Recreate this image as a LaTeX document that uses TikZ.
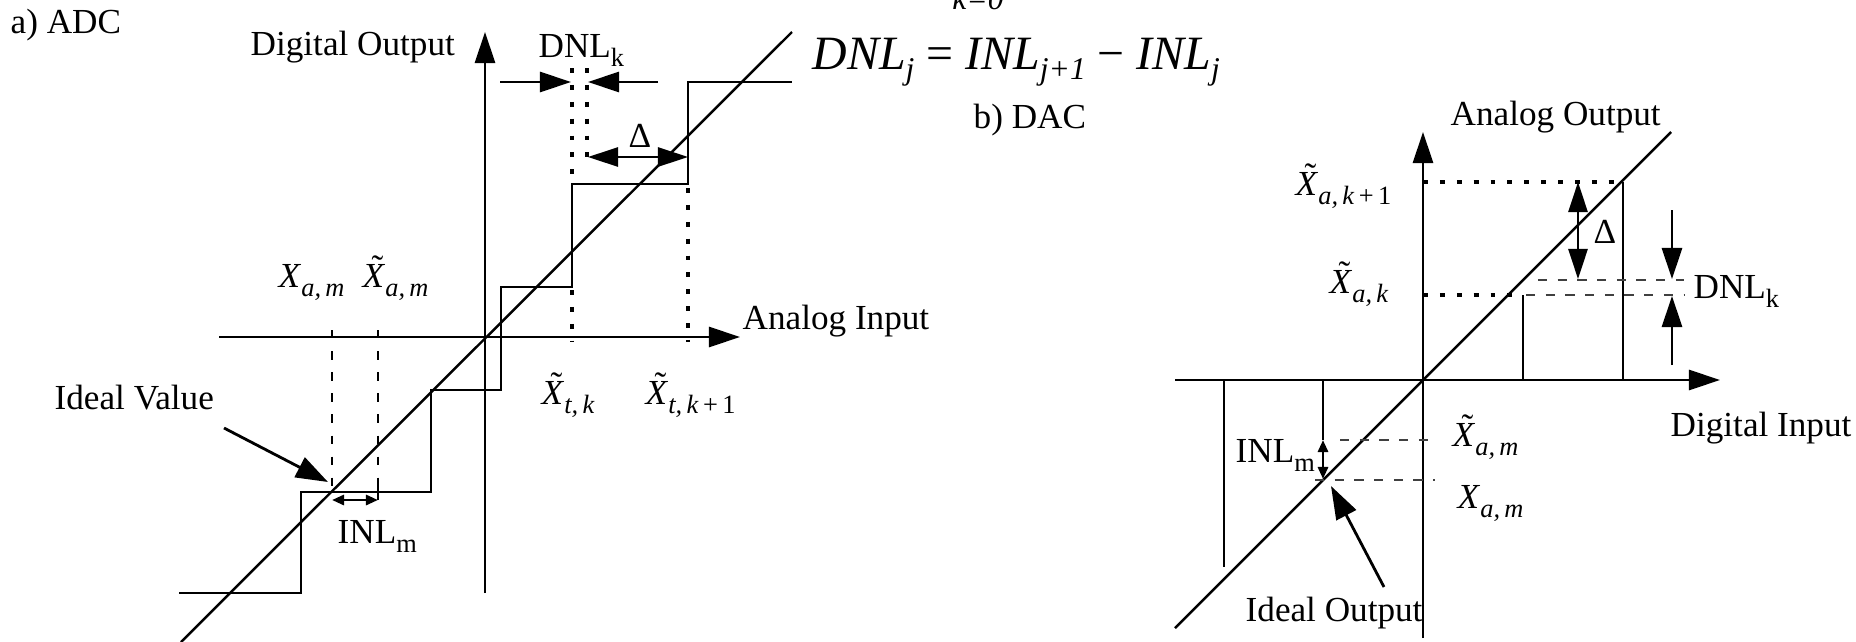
\documentclass[tikz,border=0pt]{standalone}
\usepackage{fontspec}
\setmainfont{Liberation Serif}
\usetikzlibrary{arrows.meta}
\newcommand\tX{\ooalign{\textit{X}\cr\hidewidth\raisebox{0.2em}{\kern0.2em\char"02DC}\hidewidth\cr}}
\newcommand\lsub[1]{\raisebox{-0.26em}{\fontsize{7.5}{8}\selectfont #1}}
\newcommand\sbt[1]{\lsub{\itshape #1}}
\newcommand\eqsub[1]{\raisebox{-0.22em}{\fontsize{9}{10}\selectfont\textit{#1}}}
\begin{document}
\begin{tikzpicture}[x=0.01cm,y=-0.01cm,
  lab/.style={anchor=base west,inner sep=0pt,font=\fontsize{10}{12}\selectfont},
  labc/.style={anchor=base,inner sep=0pt,font=\fontsize{10}{12}\selectfont},
  axisline/.style={line width=0.8pt},
  diagline/.style={line width=0.7pt},
  bigarrow/.style={line width=0.8pt,-{Triangle[length=3.1mm,width=2mm]}},
  dblarrow/.style={line width=0.8pt,{Triangle[length=3mm,width=1.9mm]}-{Triangle[length=3mm,width=1.9mm]}},
  smalldbl/.style={line width=0.8pt,{Triangle[length=1.2mm,width=1mm]}-{Triangle[length=1.2mm,width=1mm]}},
  bolddots/.style={line width=1.1pt,dash pattern=on 1.4pt off 3.4pt},
  lightdash/.style={line width=0.6pt,black!75,dash pattern=on 2.6pt off 3pt},
  thindash/.style={line width=0.7pt,dash pattern=on 2.4pt off 3.6pt}]
\useasboundingbox (0,0) rectangle (1856,642);

% ---------------- formula ----------------
\node[anchor=base,inner sep=0pt,font=\fontsize{9}{10}\selectfont\itshape] (ksum) at (978,9) {k=0};
\node[anchor=base west,inner sep=0pt,font=\fontsize{13.6}{16}\selectfont] (eq) at (812,69)
  {\textit{DNL}\eqsub{j} = \textit{INL}\eqsub{j+1} − \textit{INL}\eqsub{j}};

% ---------------- a) ADC ----------------
\node[lab] (atitle) at (10,33) {a) ADC};
\node[lab] (aylab) at (250,55) {Digital Output};
\node[lab] (axlab) at (742,329) {Analog Input};

\coordinate (aYb) at (485,593);
\coordinate (aYt) at (485,32);
\coordinate (aXl) at (219,337);
\coordinate (aXr) at (740,337);
\draw[bigarrow] (aYb) -- (aYt);
\draw[bigarrow] (aXl) -- (aXr);
\coordinate (aD1) at (181,642);
\coordinate (aD2) at (792,32);
\draw[diagline] (aD1) -- (aD2);

% staircase
\draw[axisline] (179,593) -- (301,593) -- (301,492) -- (431,492) -- (431,390)
  -- (501,390) -- (501,287) -- (572,287) -- (572,184) -- (688,184) -- (688,82) -- (792,82);

% dotted guides
\draw[bolddots] (572,68) -- (572,184);
\draw[bolddots] (587,68) -- (587,162);
\draw[bolddots] (572,290) -- (572,342);
\draw[bolddots] (688,188) -- (688,342);
\draw[thindash] (332,330) -- (332,492);
\draw[thindash] (378,330) -- (378,486);
\draw[line width=0.7pt] (378,486) -- (378,500);

% DNL_k arrows
\coordinate (adl1) at (500,82);
\coordinate (adl2) at (571,82);
\coordinate (adr1) at (658,82);
\coordinate (adr2) at (588,82);
\draw[bigarrow] (adl1) -- (adl2);
\draw[bigarrow] (adr1) -- (adr2);
\node[lab] (adnl) at (538,57) {DNL\lsub{k}};

% Delta arrow
\coordinate (adel1) at (588,157);
\coordinate (adel2) at (688,157);
\draw[dblarrow] (adel1) -- (adel2);
\node[labc] (adelta) at (640,147) {Δ};

% INL_m arrow
\coordinate (ainl1) at (332,500);
\coordinate (ainl2) at (378,500);
\draw[smalldbl] (ainl1) -- (ainl2);
\node[lab] (ainl) at (337,543) {INL\lsub{m}};

% Ideal value
\node[lab] (aideal) at (54,409) {Ideal Value};
\coordinate (aidl1) at (224,428);
\coordinate (aidl2) at (328,482);
\draw[line width=0.8pt,-{Triangle[length=3.2mm,width=2.2mm]}] (aidl1) -- (aidl2);

% tick labels
\node[lab] (axam) at (278,287) {\textit{X}\sbt{a,\,m}};
\node[lab] (atxam) at (362,287) {\tX\sbt{a,\,m}};
\node[lab] (atxtk) at (541,404) {\tX\sbt{t,\,k}};
\node[lab] (atxtk1) at (645,404) {\tX\lsub{\textit{t,\,k}\,+\,1}};

% ---------------- b) DAC ----------------
\node[lab] (btitle) at (973,128) {b) DAC};
\node[lab] (bylab) at (1450,125) {Analog Output};
\node[lab] (bxlab) at (1670,436) {Digital Input};

\coordinate (bYb) at (1423,638);
\coordinate (bYt) at (1423,132);
\coordinate (bXl) at (1175,380);
\coordinate (bXr) at (1720,380);
\draw[bigarrow] (bYb) -- (bYt);
\draw[bigarrow] (bXl) -- (bXr);
\coordinate (bD1) at (1175,628);
\coordinate (bD2) at (1671,132);
\draw[diagline] (bD1) -- (bD2);

% bars
\draw[axisline] (1623,182) -- (1623,380);
\draw[axisline] (1523,295) -- (1523,380);
\draw[axisline] (1224,380) -- (1224,567);
\draw[axisline] (1323,380) -- (1323,440);

% dotted levels
\draw[bolddots] (1423,182) -- (1623,182);
\draw[bolddots] (1423,295) -- (1523,295);
\draw[lightdash] (1526,295) -- (1684,295);
\draw[lightdash] (1538,280) -- (1684,280);
\draw[lightdash] (1340,440) -- (1435,440);
\draw[lightdash] (1315,480) -- (1435,480);

% Delta
\coordinate (bdel1) at (1578,182);
\coordinate (bdel2) at (1578,279);
\draw[dblarrow] (bdel1) -- (bdel2);
\node[labc] (bdelta) at (1605,243) {Δ};

% DNL_k
\coordinate (bdt1) at (1672,210);
\coordinate (bdt2) at (1672,279);
\coordinate (bdb1) at (1672,365);
\coordinate (bdb2) at (1672,296);
\draw[bigarrow] (bdt1) -- (bdt2);
\draw[bigarrow] (bdb1) -- (bdb2);
\node[lab] (bdnl) at (1693,298) {DNL\lsub{k}};

% INL_m
\coordinate (binl1) at (1323,440);
\coordinate (binl2) at (1323,479);
\draw[smalldbl] (binl1) -- (binl2);
\node[lab] (binl) at (1235,462) {INL\lsub{m}};

% Ideal output
\node[lab] (bideal) at (1245,621) {Ideal Output};
\coordinate (bidl1) at (1384,587);
\coordinate (bidl2) at (1331,486);
\draw[line width=0.8pt,-{Triangle[length=3.3mm,width=2.2mm]}] (bidl1) -- (bidl2);

% tick labels
\node[lab] (btxk1) at (1295,195) {\tX\lsub{\textit{a,\,k}\,+\,1}};
\node[lab] (btxk) at (1329,293) {\tX\sbt{a,\,k}};
\node[lab] (btxm) at (1452,446) {\tX\sbt{a,\,m}};
\node[lab] (bxm) at (1457,508) {\textit{X}\sbt{a,\,m}};
\end{tikzpicture}
\end{document}
